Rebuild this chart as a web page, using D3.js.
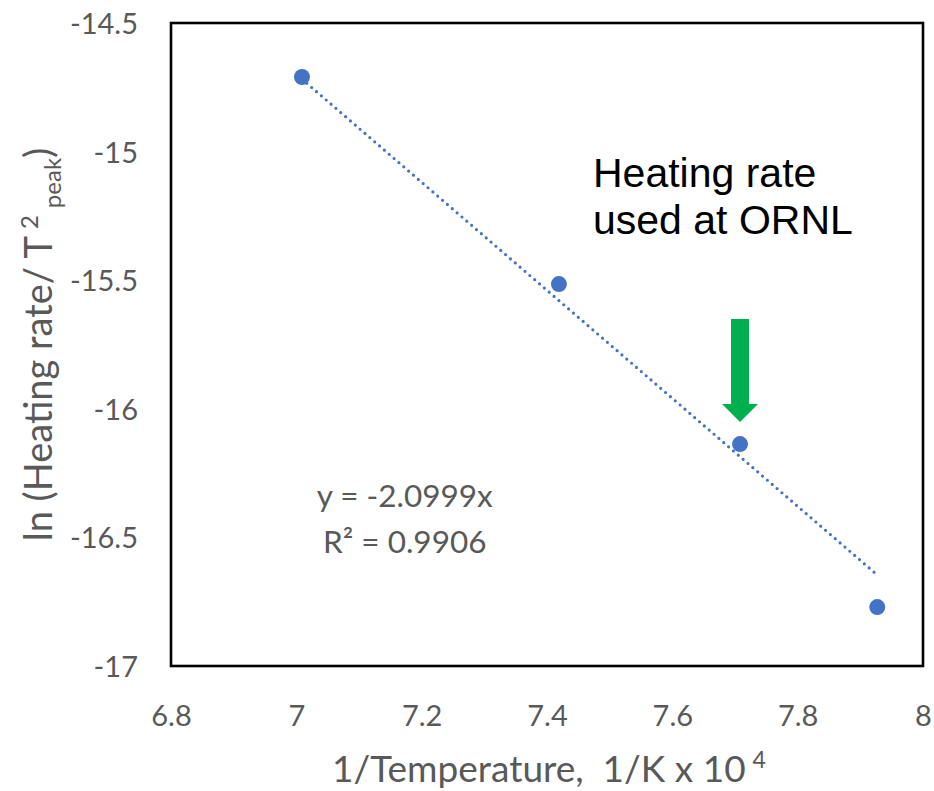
<!DOCTYPE html>
<html>
<head>
<meta charset="utf-8">
<script src="https://cdn.jsdelivr.net/npm/d3@7"></script>
<style>
  html, body { margin: 0; padding: 0; background: #fff; }
  svg { display: block; }
  .tick text { fill: #595959; font-family: Lato, "Open Sans", sans-serif; font-size: 29px; }
</style>
</head>
<body>
<svg id="chart" width="934" height="791"></svg>
<script>
// Kissinger plot: ln(heating rate / T_peak^2) against inverse peak temperature
const invTemp = [7.009, 7.419, 7.708, 7.927];          // 1/K x 10^4
const lnRate  = [-14.710, -15.515, -16.137, -16.771];  // ln(beta / T_peak^2)
const xTicks  = [6.8, 7, 7.2, 7.4, 7.6, 7.8, 8];
const yTicks  = [-14.5, -15, -15.5, -16, -16.5, -17];
const slope   = -2.0999;   // linear fit through the origin
const rSquared = 0.9906;
const markedIndex = 2;     // heating rate used at ORNL

const W = 934, H = 791;
const margin = { top: 23, right: 11, bottom: 125, left: 171 };
const innerW = W - margin.left - margin.right;
const innerH = H - margin.top - margin.bottom;

const svg = d3.select("#chart");
const g = svg.append("g").attr("transform", `translate(${margin.left},${margin.top})`);

const x = d3.scaleLinear().domain([6.8, 8]).range([0, innerW]);
const y = d3.scaleLinear().domain([-14.5, -17]).range([0, innerH]);

const blue = "#4472C4";
const grey = "#595959";
const uiFont = 'Lato, "Open Sans", sans-serif';
const plain = d => String(d);   // keep ASCII hyphen for negatives

// axes (labels only, no tick marks)
const xAxis = g.append("g")
  .attr("transform", `translate(0,${innerH})`)
  .call(d3.axisBottom(x).tickValues(xTicks).tickSize(0).tickPadding(39).tickFormat(plain));
xAxis.select(".domain").remove();

const yAxis = g.append("g")
  .call(d3.axisLeft(y).tickValues(yTicks).tickSize(0).tickPadding(33).tickFormat(plain));
yAxis.select(".domain").remove();
yAxis.selectAll("text").attr("dy", "0.36em");

// plot frame
g.append("rect")
  .attr("x", 0).attr("y", 0)
  .attr("width", innerW).attr("height", innerH)
  .attr("fill", "none").attr("stroke", "#000").attr("stroke-width", 2.6);

// dotted trendline over the data range
const xExt = d3.extent(invTemp);
const trend = xExt.map(v => [v, slope * v]);
g.append("path")
  .datum(trend)
  .attr("d", d3.line().x(d => x(d[0])).y(d => y(d[1])))
  .attr("fill", "none")
  .attr("stroke", blue)
  .attr("stroke-width", 3.2)
  .attr("stroke-linecap", "round")
  .attr("stroke-dasharray", "0 6.4");

// data markers
const pts = invTemp.map((v, i) => ({ x: v, y: lnRate[i] }));
g.selectAll("circle.pt")
  .data(pts)
  .join("circle")
  .attr("class", "pt")
  .attr("cx", d => x(d.x))
  .attr("cy", d => y(d.y))
  .attr("r", 8)
  .attr("fill", blue);

// fit equation
const eqX = x(7.173);
const eq = g.append("text")
  .attr("text-anchor", "middle")
  .attr("fill", grey)
  .style("font-family", uiFont)
  .style("font-size", "31.5px");
eq.append("tspan").attr("x", eqX).attr("y", y(-16.382)).text(`y = ${slope}x`);
eq.append("tspan").attr("x", eqX).attr("y", y(-16.561)).text(`R² = ${rSquared}`);

// green arrow pointing at the marked heating rate
const mk = pts[markedIndex];
const tipX = x(mk.x), tipY = y(mk.y) - 22;
const shaftW = 18, headW = 36, headH = 18, arrowLen = 103;
const arrow = [
  [tipX - shaftW / 2, tipY - arrowLen],
  [tipX + shaftW / 2, tipY - arrowLen],
  [tipX + shaftW / 2, tipY - headH],
  [tipX + headW / 2, tipY - headH],
  [tipX, tipY],
  [tipX - headW / 2, tipY - headH],
  [tipX - shaftW / 2, tipY - headH]
];
g.append("path")
  .attr("d", d3.line()(arrow) + "Z")
  .attr("fill", "#00B050");

// callout text
const note = g.append("text")
  .attr("fill", "#000")
  .style("font-family", '"Liberation Sans", Arial, sans-serif')
  .style("font-size", "41px");
note.append("tspan").attr("x", tipX - 147).attr("y", tipY - 235 - margin.top + 23).text("Heating rate");
note.append("tspan").attr("x", tipX - 147).attr("y", tipY - 188 - margin.top + 23).text("used at ORNL");

// x-axis title
const xt = svg.append("text")
  .attr("x", 549)
  .attr("y", 782)
  .attr("text-anchor", "middle")
  .attr("fill", grey)
  .style("font-family", uiFont)
  .style("font-size", "37px");
xt.append("tspan").text("1/Temperature,\u00A0 1/K x 10");
xt.append("tspan").attr("dx", 7).attr("dy", -14).style("font-size", "23px").text("4");

// y-axis title
const yt = svg.append("text")
  .attr("transform", `translate(52,${margin.top + innerH / 2}) rotate(-90)`)
  .attr("text-anchor", "middle")
  .attr("fill", grey)
  .style("font-family", uiFont)
  .style("font-size", "38px");
yt.append("tspan").text("ln (Heating rate/ T");
yt.append("tspan").attr("dx", 7).attr("dy", -14).style("font-size", "24px").text("2");
yt.append("tspan").attr("dx", 7).attr("dy", 23).style("font-size", "24px").text("peak");
yt.append("tspan").attr("dy", -9).text(")");
</script>
</body>
</html>
